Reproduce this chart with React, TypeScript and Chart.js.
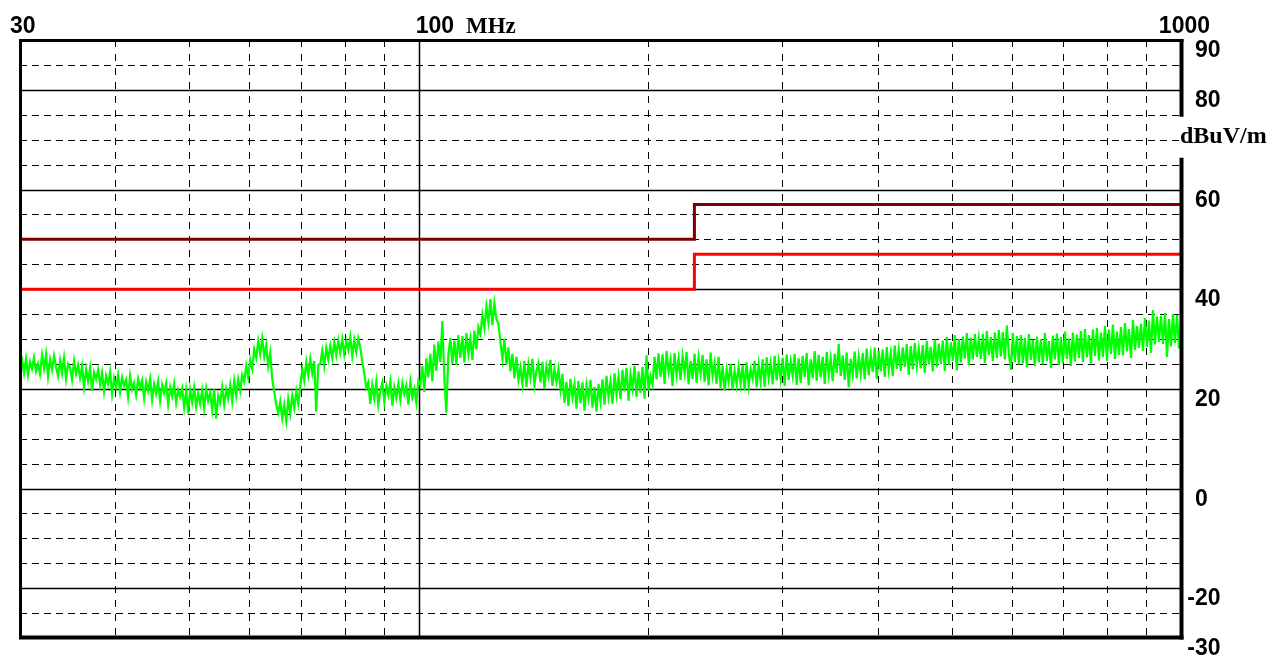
import React, { useEffect, useRef } from "react";
import { Chart, registerables } from "chart.js";

Chart.register(...registerables);

// ---- axis ranges & ticks ----
const F_START = 30;
const F_STOP = 1000;
const Y_MIN = -30;
const Y_MAX = 90;
const xTopLabels = ["30", "100", "1000"];
const xTopLabelFreqs = [30, 100, 1000];
const xUnit = "MHz";
const yUnit = "dBuV/m";
const yUnitValue = 70;
const yTickLabels = [90, 80, 60, 40, 20, 0, -20, -30];
const yGridMajor = [80, 60, 40, 20, 0, -20];
const yGridMinor = [85, 75, 70, 65, 55, 50, 45, 35, 30, 25, 15, 10, 5, -5, -10, -15, -25];
const xGridMajor = [100];
const xGridMinor = [40, 50, 60, 70, 80, 90, 200, 300, 400, 500, 600, 700, 800, 900];

// ---- limit lines ----
const limitAFreqs = [30, 230, 230, 1000];
const limitAValues = [50, 50, 57, 57];
const limitBFreqs = [30, 230, 230, 1000];
const limitBValues = [40, 40, 47, 47];

// ---- measured trace (sweep points, log-spaced 30..1000 MHz), dBuV/m ----
const traceValues = [
  24.5, 25.8, 23.2, 26.1, 22.8, 25.4, 24.0, 26.3, 23.5, 25.0,
  23.0, 26.8, 24.1, 27.0, 22.5, 25.9, 23.8, 26.6, 24.4, 22.6,
  25.7, 23.1, 26.2, 22.0, 25.0, 24.3, 21.8, 25.6, 23.0, 24.8,
  22.2, 24.6, 20.4, 23.9, 21.5, 24.2, 19.6, 23.3, 22.0, 23.8,
  20.8, 23.2, 19.5, 22.6, 21.0, 23.4, 18.9, 22.1, 20.3, 22.8,
  19.4, 22.3, 20.6, 21.8, 18.4, 22.6, 19.9, 21.2, 18.8, 22.0,
  20.2, 21.7, 18.1, 21.4, 19.6, 22.0, 17.8, 20.9, 19.0, 21.5,
  17.6, 20.8, 19.2, 21.1, 16.9, 20.3, 18.5, 21.0, 17.2, 19.8,
  18.4, 20.1, 16.2, 19.6, 15.0, 19.8, 17.3, 20.2, 16.4, 19.0,
  17.0, 19.7, 16.1, 20.0, 17.6, 19.2, 15.8, 19.9, 14.0, 18.6,
  17.2, 20.3, 16.8, 19.9, 18.0, 20.8, 17.5, 21.6, 18.6, 21.9,
  19.6, 22.8, 21.4, 24.6, 22.3, 25.8, 24.0, 27.9, 26.2, 29.6,
  27.0, 30.1, 26.5, 28.8, 24.6, 27.2, 22.0, 19.5, 16.8, 15.2,
  17.4, 14.1, 16.8, 13.6, 17.9, 15.0, 18.6, 16.2, 19.5, 17.0,
  20.5, 23.8, 21.6, 25.4, 22.7, 26.0, 23.1, 25.6, 15.4, 24.8,
  25.0, 27.6, 24.6, 28.2, 25.9, 28.6, 26.2, 29.3, 26.8, 29.7,
  27.3, 30.0, 26.9, 29.5, 27.8, 30.4, 26.6, 29.8, 27.4, 30.1,
  28.2, 25.4, 23.0, 20.2, 21.3, 17.0, 20.8, 18.1, 21.4, 16.8,
  19.6, 21.2, 17.4, 20.6, 18.8, 21.5, 16.6, 20.3, 18.2, 21.0,
  17.8, 21.1, 19.0, 20.6, 16.9, 21.4, 18.3, 20.0, 17.2, 21.6,
  20.8, 24.6, 19.4, 26.1, 22.3, 27.0, 21.5, 28.9, 23.6, 29.5,
  25.4, 33.6, 22.0, 15.2, 26.8, 30.2, 25.0, 29.7, 24.8, 30.8,
  26.2, 30.6, 25.3, 31.2, 27.0, 30.0, 25.8, 31.7, 27.9, 32.4,
  31.0, 34.8, 32.2, 36.5, 33.4, 38.0, 32.8, 37.2, 34.0, 33.0,
  29.4, 26.0, 30.1, 24.8, 28.3, 23.5, 27.0, 22.1, 26.4, 21.8,
  24.3, 21.0, 25.6, 20.4, 24.9, 22.2, 26.0, 20.8, 23.7, 25.2,
  21.3, 25.4, 20.0, 24.6, 22.5, 25.8, 20.6, 23.9, 21.4, 24.0,
  19.8, 23.0, 17.2, 21.4, 16.5, 22.0, 18.3, 20.9, 16.0, 21.6,
  17.1, 21.3, 15.6, 20.7, 18.0, 21.8, 16.2, 20.4, 15.4, 21.0,
  17.5, 21.9, 16.8, 22.6, 18.4, 21.4, 17.0, 23.1, 18.9, 22.4,
  18.0, 23.8, 19.5, 24.2, 17.6, 22.9, 20.1, 24.6, 18.4, 23.5,
  19.2, 24.4, 18.0, 26.8, 19.6, 22.5, 20.8, 26.4, 21.9, 27.1,
  22.4, 26.9, 21.0, 27.6, 23.5, 25.8, 20.6, 27.2, 22.7, 26.0,
  21.8, 26.5, 23.2, 27.4, 20.9, 25.6, 22.0, 27.0, 21.2, 26.2,
  23.0, 26.8, 21.4, 25.9, 20.7, 27.3, 22.6, 25.2, 21.0, 26.4,
  20.2, 24.6, 19.6, 23.8, 21.4, 25.0, 19.9, 23.5, 20.8, 24.4,
  21.0, 24.8, 19.7, 25.3, 20.6, 23.9, 22.0, 25.6, 20.3, 24.9,
  21.5, 25.9, 20.4, 26.3, 22.2, 25.1, 20.9, 26.6, 21.7, 25.5,
  22.0, 26.2, 20.6, 26.9, 21.8, 25.4, 22.6, 27.0, 20.8, 26.1,
  21.2, 26.6, 22.4, 27.2, 20.7, 25.9, 22.1, 27.6, 21.6, 26.8,
  22.3, 26.4, 21.0, 27.4, 22.8, 26.1, 21.5, 27.0, 23.2, 29.0,
  22.6, 26.7, 21.8, 27.3, 20.3, 26.0, 22.9, 27.5, 22.1, 26.4,
  23.0, 27.2, 21.9, 28.1, 22.7, 26.8, 23.4, 28.3, 22.0, 27.6,
  23.5, 27.9, 22.4, 28.4, 23.8, 27.1, 22.6, 28.7, 24.0, 27.8,
  23.6, 28.3, 24.4, 29.0, 22.8, 28.6, 23.9, 29.2, 24.6, 28.0,
  24.1, 28.8, 23.2, 29.6, 24.9, 28.4, 23.5, 29.9, 24.3, 29.1,
  25.0, 29.7, 23.6, 30.4, 24.8, 29.3, 25.6, 30.8, 23.7, 30.0,
  25.3, 30.5, 26.1, 31.2, 24.7, 30.3, 25.9, 31.0, 26.4, 30.1,
  26.0, 31.0, 25.2, 31.6, 26.8, 30.4, 25.6, 31.3, 26.2, 31.8,
  26.5, 31.4, 25.9, 32.7, 27.0, 23.8, 31.2, 25.4, 30.6, 24.9,
  30.8, 25.1, 30.2, 24.3, 31.0, 25.8, 29.9, 24.6, 30.5, 25.3,
  30.0, 24.9, 31.2, 25.6, 29.6, 24.2, 30.7, 25.9, 31.1, 24.8,
  30.4, 25.2, 31.5, 26.0, 30.1, 24.6, 31.3, 25.5, 30.9, 26.2,
  31.6, 25.4, 32.0, 26.3, 30.8, 25.1, 31.9, 26.6, 32.2, 25.7,
  31.3, 26.4, 32.6, 25.6, 31.9, 27.0, 32.9, 26.0, 31.5, 26.8,
  32.4, 26.7, 33.2, 27.5, 32.0, 26.2, 33.8, 27.8, 32.6, 28.2,
  33.1, 27.6, 34.2, 28.4, 33.7, 27.2, 35.8, 28.9, 34.5, 29.4,
  34.6, 29.0, 35.2, 26.4, 34.0, 28.5, 35.0, 29.2, 34.8, 28.1,
  33.0,
];

// sweep frequency grid (x positions of the measured samples)
const traceFreqs = traceValues.map(
  (_, i) => F_START * Math.pow(F_STOP / F_START, i / (traceValues.length - 1))
);

const DIGIT_FONT = 'bold 23px "Liberation Sans", Arial, sans-serif';
const SERIF_FONT = 'bold 23px "Liberation Serif", "Times New Roman", serif';

const framePlugin = {
  id: "emcFrame",
  beforeDatasetsDraw(chart: any) {
    const { ctx, chartArea: a, scales } = chart;
    const x = scales.x;
    const y = scales.y;
    ctx.save();
    ctx.strokeStyle = "#000";
    for (const v of yGridMinor) {
      const py = Math.round(y.getPixelForValue(v)) + 0.5;
      ctx.lineWidth = 1;
      ctx.setLineDash([7, 5]);
      ctx.beginPath();
      ctx.moveTo(a.left, py);
      ctx.lineTo(a.right, py);
      ctx.stroke();
    }
    for (const f of xGridMinor) {
      const px = Math.round(x.getPixelForValue(f)) + 0.5;
      ctx.lineWidth = 1;
      ctx.setLineDash([7, 7]);
      ctx.beginPath();
      ctx.moveTo(px, a.top);
      ctx.lineTo(px, a.bottom);
      ctx.stroke();
    }
    ctx.setLineDash([]);
    ctx.lineWidth = 1.5;
    for (const v of yGridMajor) {
      const py = Math.round(y.getPixelForValue(v)) + 0.5;
      ctx.beginPath();
      ctx.moveTo(a.left, py);
      ctx.lineTo(a.right, py);
      ctx.stroke();
    }
    for (const f of xGridMajor) {
      const px = Math.round(x.getPixelForValue(f)) + 0.5;
      ctx.beginPath();
      ctx.moveTo(px, a.top);
      ctx.lineTo(px, a.bottom);
      ctx.stroke();
    }
    ctx.restore();
  },
  afterDatasetsDraw(chart: any) {
    const { ctx, chartArea: a, scales } = chart;
    const x = scales.x;
    const y = scales.y;
    ctx.save();
    ctx.strokeStyle = "#000";
    ctx.setLineDash([]);
    const unitY = y.getPixelForValue(yUnitValue);
    ctx.lineWidth = 3;
    ctx.beginPath();
    ctx.moveTo(a.left + 0.5, a.top - 1);
    ctx.lineTo(a.left + 0.5, a.bottom + 1);
    ctx.stroke();
    ctx.beginPath();
    ctx.moveTo(a.left - 1, a.top + 0.5);
    ctx.lineTo(a.right + 2.5, a.top + 0.5);
    ctx.stroke();
    ctx.lineWidth = 4;
    ctx.beginPath();
    ctx.moveTo(a.left - 1, a.bottom - 0.5);
    ctx.lineTo(a.right + 2.5, a.bottom - 0.5);
    ctx.stroke();
    ctx.beginPath();
    ctx.moveTo(a.right + 0.5, a.top - 1);
    ctx.lineTo(a.right + 0.5, unitY - 23);
    ctx.moveTo(a.right + 0.5, unitY + 18);
    ctx.lineTo(a.right + 0.5, a.bottom + 1.5);
    ctx.stroke();

    ctx.fillStyle = "#000";
    ctx.textBaseline = "alphabetic";
    ctx.font = DIGIT_FONT;
    xTopLabels.forEach((lab, i) => {
      const px = x.getPixelForValue(xTopLabelFreqs[i]);
      if (i === 0) {
        ctx.textAlign = "left";
        ctx.fillText(lab, px - 10, 33);
      } else if (i === xTopLabels.length - 1) {
        ctx.textAlign = "right";
        ctx.fillText(lab, px + 29, 33);
      } else {
        ctx.textAlign = "left";
        ctx.fillText(lab, px - 3, 33);
        const w = ctx.measureText(lab).width;
        ctx.font = SERIF_FONT;
        ctx.fillText(xUnit, px - 3 + w + 12, 33);
        ctx.font = DIGIT_FONT;
      }
    });
    const lx = a.right + 14;
    for (const v of yTickLabels) {
      const py = y.getPixelForValue(v) + 17;
      ctx.textAlign = "left";
      ctx.fillText(String(Math.abs(v)), lx, py);
      if (v < 0) {
        ctx.textAlign = "right";
        ctx.fillText("-", lx, py);
      }
    }
    ctx.font = 'bold 24px "Liberation Serif", "Times New Roman", serif';
    ctx.textAlign = "left";
    ctx.fillText(yUnit, a.right - 1, unitY + 3);
    ctx.restore();
  },
};

function toPoints(xs: number[], ys: number[]) {
  return xs.map((f, i) => ({ x: f, y: ys[i] }));
}

export default function App() {
  const ref = useRef<HTMLCanvasElement | null>(null);
  useEffect(() => {
    document.body.style.margin = "0";
    const canvas = ref.current;
    if (!canvas) return;
    const chart = new Chart(canvas, {
      type: "line",
      data: {
        datasets: [
          {
            label: "Class A",
            data: toPoints(limitAFreqs, limitAValues),
            borderColor: "#800000",
            borderWidth: 3,
            pointRadius: 0,
            tension: 0,
          },
          {
            label: "Class B",
            data: toPoints(limitBFreqs, limitBValues),
            borderColor: "#ff0000",
            borderWidth: 3,
            pointRadius: 0,
            tension: 0,
          },
          {
            label: "Measurement",
            data: toPoints(traceFreqs, traceValues),
            borderColor: "#00ff00",
            borderWidth: 2.2,
            pointRadius: 0,
            tension: 0,
            borderJoinStyle: "miter",
          },
        ],
      },
      options: {
        animation: false,
        responsive: false,
        devicePixelRatio: 1,
        layout: { padding: { left: 20, top: 40, right: 103, bottom: 19 } },
        plugins: {
          legend: { display: false },
          tooltip: { enabled: false },
        },
        scales: {
          x: { type: "logarithmic", min: F_START, max: F_STOP, display: false },
          y: { type: "linear", min: Y_MIN, max: Y_MAX, display: false },
        },
      },
      plugins: [framePlugin],
    });
    return () => chart.destroy();
  }, []);
  return (
    <div style={{ width: 1284, height: 657, background: "#fff" }}>
      <canvas ref={ref} width={1284} height={657} style={{ display: "block" }} />
    </div>
  );
}
